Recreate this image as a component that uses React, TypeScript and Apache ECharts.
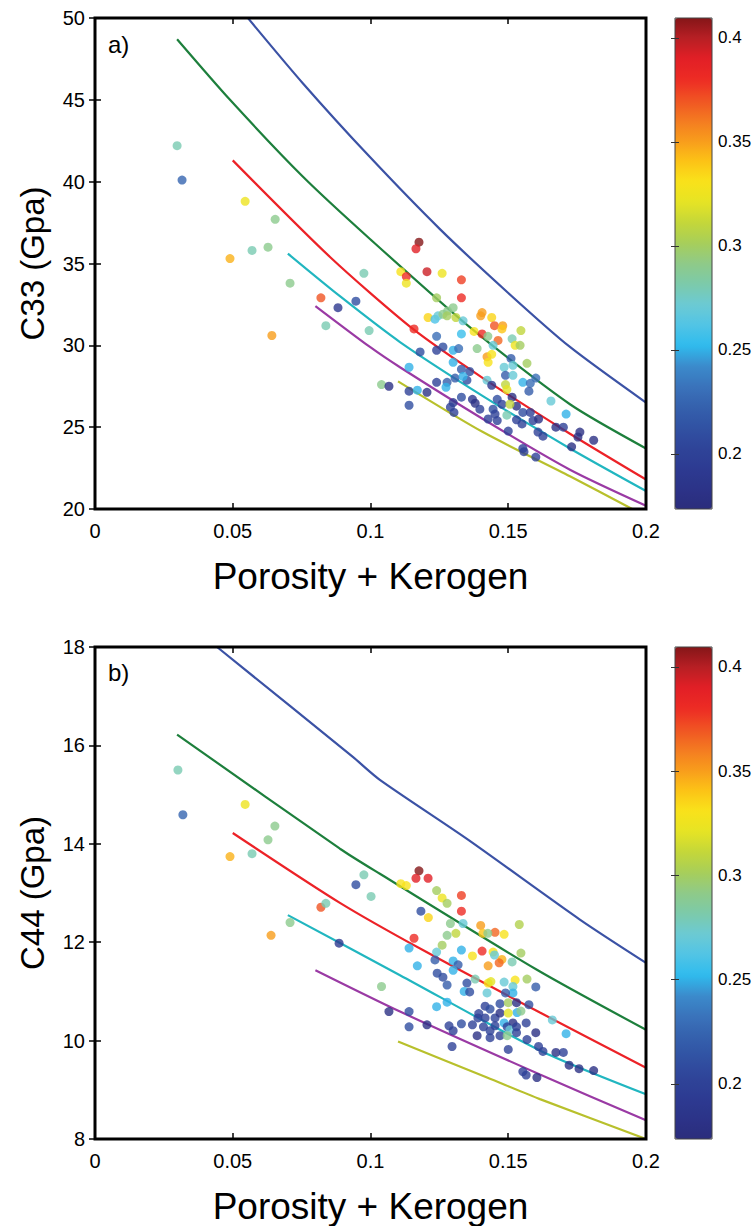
import React, { useEffect, useRef } from "react";
import * as echarts from "echarts";

// ---------- colour scale ----------
const CB_MIN = 0.1735;
const CB_MAX = 0.4095;
const CB_TICKS = [0.2, 0.25, 0.3, 0.35, 0.4];
const JET = [
  "#2b2d7c", "#2c3388", "#2d3b92", "#2f4499", "#3152a3", "#3561ad", "#3a73bb",
  "#3b8bcc", "#2fbcee", "#52c4e5", "#6ccad3", "#7ccaaa", "#8fca88", "#a7ce5a",
  "#c4d739", "#e6e424", "#f9e21a", "#fcc316", "#f89c1c", "#f47a21", "#f05323",
  "#ed2b24", "#e21f26", "#b81f24", "#851618",
];

// ---------- panel a) C33 ----------
const aX = [0.0298,0.0316,0.0545,0.0654,0.0628,0.057,0.049,0.0708,0.082,0.0882,0.0838,0.0947,0.0642,0.0976,0.0995,
  0.1176,0.1165,0.111,0.113,0.113,0.1205,0.126,0.133,0.124,0.133,0.1209,0.1234,0.1245,0.1263,0.128,0.13,0.1278,0.131,0.1336,
  0.1405,0.14,0.144,0.145,0.148,0.1477,0.1546,0.1158,0.1376,0.1405,0.1426,0.1463,0.1514,0.1525,0.1543,0.124,0.118,0.124,
  0.1263,0.13,0.132,0.1387,0.1445,0.1423,0.144,0.1427,0.151,0.1568,0.13,0.114,0.133,0.136,0.1485,0.1517,0.149,0.1517,0.16,
  0.1655,0.171,0.1307,0.135,0.1278,0.124,0.1423,0.144,0.149,0.1495,0.1553,0.158,0.104,0.1067,0.114,0.117,0.1205,0.1274,
  0.114,0.133,0.137,0.138,0.146,0.1514,0.153,0.13,0.129,0.1303,0.1397,0.1445,0.1452,0.1477,0.1495,0.1553,0.158,0.1427,0.146,
  0.153,0.159,0.161,0.15,0.155,0.1608,0.1626,0.1673,0.17,0.1553,0.1557,0.16,0.176,0.1753,0.173,0.181,0.133,0.1506,0.1575,0.1336];
const aC33 = [42.2,40.1,38.8,37.7,36.0,35.8,35.3,33.8,32.9,32.3,31.2,32.7,30.6,34.4,30.9,
  36.3,35.9,34.5,34.2,33.8,34.5,34.4,34.0,32.9,32.9,31.7,31.6,31.8,31.9,32.1,32.3,31.8,31.7,31.5,
  32.0,31.8,31.7,31.2,31.2,31.0,30.9,31.0,30.85,30.7,30.55,30.3,30.4,30.0,30.0,30.55,29.6,29.7,
  29.9,29.7,29.8,29.8,30.0,29.3,29.45,28.96,29.2,28.9,28.96,28.66,28.54,28.4,28.66,28.78,28.17,28.17,28.0,
  26.6,25.8,28.0,27.87,27.74,27.74,27.87,27.56,27.6,27.3,27.74,27.68,27.6,27.5,27.2,27.26,27.13,27.44,
  26.34,26.83,26.7,26.46,26.7,26.83,26.28,26.5,26.22,25.9,26.1,26.1,25.8,26.4,25.73,25.9,25.9,25.5,25.4,
  25.45,25.4,25.5,24.76,25.2,24.7,24.45,25.0,25.0,23.7,23.5,23.17,24.7,24.4,23.8,24.2,30.7,26.4,27.2,28.1];
const aColor = [0.28,0.225,0.325,0.29,0.29,0.28,0.345,0.29,0.37,0.19,0.28,0.21,0.35,0.28,0.28,
  0.41,0.39,0.33,0.38,0.325,0.395,0.325,0.375,0.3,0.38,0.335,0.26,0.27,0.29,0.29,0.29,0.3,0.31,0.27,
  0.35,0.35,0.335,0.37,0.35,0.34,0.31,0.38,0.33,0.38,0.29,0.365,0.28,0.325,0.3,0.23,0.21,0.2,
  0.21,0.25,0.23,0.29,0.27,0.35,0.33,0.33,0.22,0.3,0.25,0.25,0.22,0.21,0.27,0.27,0.22,0.27,0.23,
  0.27,0.25,0.22,0.21,0.22,0.2,0.27,0.19,0.31,0.32,0.25,0.23,0.29,0.18,0.2,0.25,0.18,0.25,
  0.21,0.21,0.19,0.18,0.21,0.18,0.18,0.19,0.2,0.2,0.2,0.21,0.2,0.2,0.28,0.21,0.2,0.2,0.2,
  0.2,0.2,0.18,0.2,0.2,0.2,0.2,0.18,0.2,0.2,0.2,0.2,0.18,0.18,0.18,0.18,0.255,0.31,0.22,0.25];

const blueA = [[0.055,50.1],[0.0755,46.0],[0.0998,41.5],[0.1252,37.1],[0.15,33.2],[0.1724,29.9],[0.2,26.5]];
const greenA = [[0.0298,48.7],[0.049,45.0],[0.0755,40.3],[0.0998,36.5],[0.1368,31.0],[0.1724,26.4],[0.2,23.7]];
const redA = [[0.05,41.3],[0.0853,35.4],[0.1154,31.0],[0.1408,28.0],[0.1724,24.6],[0.2,21.8]];
const cyanA = [[0.07,35.6],[0.0889,33.0],[0.1107,30.2],[0.1408,26.9],[0.1724,23.7],[0.2,21.1]];
const purpleA = [[0.08,32.4],[0.0998,29.9],[0.1107,28.66],[0.1408,25.5],[0.1724,22.4],[0.2,20.2]];
const yellowA = [[0.11,27.8],[0.1408,24.7],[0.1724,22.0],[0.195,20.0]];

// ---------- panel b) C44 ----------
const bX = [0.0301,0.0319,0.0545,0.0653,0.0628,0.057,0.049,0.0708,0.082,0.0886,0.0838,0.0947,0.0639,0.0976,0.1002,
  0.1176,0.1165,0.1209,0.111,0.113,0.124,0.126,0.1278,0.133,0.133,0.1183,0.121,0.129,0.1336,0.131,0.1278,0.126,0.1158,
  0.14,0.1408,0.1452,0.1485,0.154,0.1426,0.114,0.124,0.133,0.137,0.1405,0.1445,0.145,0.1477,0.1467,0.1427,0.1514,0.1546,
  0.117,0.1234,0.13,0.1318,0.1242,0.1263,0.1278,0.13,0.135,0.134,0.136,0.138,0.1427,0.1437,0.1423,0.1485,0.1525,0.1568,
  0.1517,0.1517,0.16,0.149,0.124,0.1278,0.114,0.114,0.1205,0.1285,0.13,0.133,0.137,0.1387,0.1416,0.1434,0.147,0.15,0.153,
  0.1532,0.1546,0.1575,0.1452,0.147,0.15,0.1517,0.1416,0.139,0.1452,0.1485,0.141,0.1434,0.1496,0.1506,0.153,0.1565,0.16,
  0.1434,0.147,0.1496,0.153,0.1568,0.161,0.1626,0.166,0.171,0.1673,0.17,0.1296,0.15,0.1553,0.1565,0.1604,0.1721,0.1757,
  0.181,0.1067,0.104,0.1393];
const bC44 = [15.5,14.59,14.8,14.36,14.08,13.8,13.74,12.4,12.71,11.98,12.79,13.17,12.14,13.37,12.93,
  13.45,13.3,13.3,13.19,13.15,13.05,12.9,12.79,12.95,12.63,12.63,12.5,12.38,12.38,12.18,12.14,11.94,12.08,
  12.34,12.18,12.2,12.16,12.36,12.18,11.88,11.8,11.84,11.72,11.82,11.8,11.74,11.65,11.58,11.52,11.6,11.78,
  11.52,11.64,11.62,11.54,11.37,11.29,11.13,11.43,11.17,11.0,10.99,11.25,11.17,11.2,10.97,11.19,11.23,11.25,
  11.1,10.97,11.09,10.97,10.69,10.78,10.59,10.28,10.32,10.3,10.2,10.34,10.32,10.1,10.7,10.64,10.75,10.77,10.77,
  10.57,10.6,10.73,10.46,10.56,10.56,10.36,10.46,10.46,10.3,10.36,10.28,10.2,10.28,10.22,10.28,10.36,10.16,
  10.06,10.1,10.1,10.16,10.02,9.88,9.78,10.42,10.14,9.76,9.76,9.88,9.82,9.37,9.3,9.25,9.5,9.43,
  9.39,10.59,11.1,10.55];
const bColor = [0.28,0.225,0.325,0.29,0.29,0.28,0.345,0.29,0.37,0.19,0.28,0.21,0.35,0.28,0.28,
  0.41,0.39,0.39,0.33,0.33,0.3,0.325,0.3,0.375,0.38,0.21,0.335,0.29,0.27,0.31,0.29,0.3,0.38,
  0.35,0.34,0.365,0.33,0.305,0.29,0.25,0.27,0.25,0.33,0.38,0.33,0.27,0.345,0.365,0.35,0.28,0.3,
  0.25,0.22,0.25,0.22,0.21,0.21,0.22,0.25,0.21,0.25,0.21,0.28,0.33,0.32,0.27,0.27,0.33,0.3,
  0.27,0.25,0.22,0.22,0.25,0.25,0.21,0.21,0.18,0.2,0.2,0.21,0.2,0.18,0.2,0.21,0.21,0.3,0.18,
  0.25,0.29,0.21,0.2,0.18,0.32,0.18,0.2,0.2,0.2,0.25,0.2,0.2,0.2,0.27,0.2,0.2,0.18,
  0.2,0.2,0.29,0.2,0.2,0.2,0.2,0.27,0.25,0.18,0.2,0.2,0.2,0.2,0.2,0.18,0.18,0.18,
  0.18,0.18,0.29,0.2];

const blueB = [[0.0443,18],[0.0937,15.76],[0.1034,15.3],[0.135,14.1],[0.176,12.46],[0.2,11.58]];
const greenB = [[0.0298,16.22],[0.0889,13.9],[0.1034,13.39],[0.1604,11.44],[0.2,10.22]];
const redB = [[0.05,14.22],[0.0889,12.8],[0.119,11.84],[0.1615,10.57],[0.2,9.45]];
const cyanB = [[0.07,12.55],[0.1107,11.33],[0.1615,9.8],[0.2,8.91]];
const purpleB = [[0.08,11.43],[0.1107,10.59],[0.1615,9.31],[0.2,8.38]];
const yellowB = [[0.11,9.98],[0.1423,9.25],[0.1615,8.81],[0.2,8.0]];

const X_TICKS_MAX = 0.2;
const LINE_COLORS = ["#3b52a5", "#1d7f3c", "#ec2227", "#21b6c0", "#9a3aa4", "#b8c02c"];

const FONT = "'Liberation Sans', Arial, Helvetica, sans-serif";

export default function App() {
  const ref = useRef<HTMLDivElement>(null);
  useEffect(() => {
    if (!ref.current) return;
    const chart = echarts.init(ref.current, undefined, { renderer: "svg" });

    const mainX = (grid: number, pos: "bottom" | "top") => ({
      type: "value",
      gridIndex: grid,
      position: pos,
      min: 0,
      max: X_TICKS_MAX,
      interval: 0.05,
      axisLine: { show: false },
      splitLine: { show: false },
      axisTick: { show: true, inside: true, length: 6, lineStyle: { color: "#000", width: 1.5 } },
      axisLabel: {
        show: pos === "bottom",
        fontSize: 20,
        color: "#000",
        fontFamily: FONT,
        margin: 12,
        formatter: (v: number) => String(+v.toFixed(2)),
      },
      name: pos === "bottom" ? "Porosity + Kerogen" : "",
      nameLocation: "middle",
      nameGap: 49,
      nameTextStyle: { fontSize: 37, color: "#000", fontFamily: FONT },
    });
    const mainY = (grid: number, pos: "left" | "right", min: number, max: number, interval: number, name: string) => ({
      type: "value",
      gridIndex: grid,
      position: pos,
      min,
      max,
      interval,
      axisLine: { show: false },
      splitLine: { show: false },
      axisTick: { show: true, inside: true, length: 6, lineStyle: { color: "#000", width: 1.5 } },
      axisLabel: { show: pos === "left", fontSize: 20, color: "#000", fontFamily: FONT, margin: 10 },
      name: pos === "left" ? name : "",
      nameLocation: "middle",
      nameGap: 46,
      nameRotate: 90,
      nameTextStyle: { fontSize: 33, color: "#000", fontFamily: FONT },
    });
    const cbX = (grid: number) => ({ type: "value", gridIndex: grid, min: 0, max: 1, show: false });
    const cbY = (grid: number, pos: "left" | "right") => ({
      type: "value",
      gridIndex: grid,
      position: pos,
      min: CB_MIN,
      max: CB_MAX,
      z: 10,
      axisLine: { show: false },
      splitLine: { show: false },
      axisTick: { show: true, inside: true, length: 4, customValues: CB_TICKS, lineStyle: { color: "#333", width: 1 } },
      axisLabel: {
        show: pos === "right",
        customValues: CB_TICKS,
        fontSize: 17,
        color: "#000",
        fontFamily: FONT,
        margin: 6,
        formatter: (v: number) => String(+v.toFixed(2)),
      },
    });

    const lineSeries = (data: number[][], color: string, xi: number, yi: number) => ({
      type: "line",
      data,
      xAxisIndex: xi,
      yAxisIndex: yi,
      showSymbol: false,
      smooth: 0.25,
      clip: true,
      lineStyle: { color, width: 2.2 },
      z: 2,
      silent: true,
    });

    const ptsA = aX.map((x, i) => [x, aC33[i], aColor[i]]);
    const ptsB = bX.map((x, i) => [x, bC44[i], bColor[i]]);
    const linesA = [blueA, greenA, redA, cyanA, purpleA, yellowA];
    const linesB = [blueB, greenB, redB, cyanB, purpleB, yellowB];

    const series: any[] = [];
    linesA.forEach((d, i) => series.push(lineSeries(d, LINE_COLORS[i], 0, 0)));
    const scatterAIndex = series.length;
    series.push({ type: "scatter", data: ptsA, xAxisIndex: 0, yAxisIndex: 0, symbolSize: 9, z: 3 });
    linesB.forEach((d, i) => series.push(lineSeries(d, LINE_COLORS[i], 2, 2)));
    const scatterBIndex = series.length;
    series.push({ type: "scatter", data: ptsB, xAxisIndex: 2, yAxisIndex: 2, symbolSize: 9, z: 3 });

    const vm = (seriesIndex: number, top: number, height: number) => ({
      type: "continuous",
      seriesIndex,
      dimension: 2,
      min: CB_MIN,
      max: CB_MAX,
      inRange: { color: JET },
      orient: "vertical",
      left: 675,
      top,
      itemWidth: 37,
      itemHeight: height,
      padding: 0,
      calculable: false,
      hoverLink: false,
      text: null,
    });

    chart.setOption({
      animation: false,
      backgroundColor: "#fff",
      grid: [
        { left: 95, top: 18, width: 551, height: 491, show: true, borderColor: "#000", borderWidth: 3, z: 5 },
        { left: 95, top: 647, width: 551, height: 492, show: true, borderColor: "#000", borderWidth: 3, z: 5 },
        { left: 675, top: 18, width: 37, height: 491, show: true, borderColor: "#444", borderWidth: 1, z: 10 },
        { left: 675, top: 647, width: 37, height: 492, show: true, borderColor: "#444", borderWidth: 1, z: 10 },
      ],
      xAxis: [mainX(0, "bottom"), mainX(0, "top"), mainX(1, "bottom"), mainX(1, "top"), cbX(2), cbX(3)],
      yAxis: [
        mainY(0, "left", 20, 50, 5, "C33 (Gpa)"),
        mainY(0, "right", 20, 50, 5, ""),
        mainY(1, "left", 8, 18, 2, "C44 (Gpa)"),
        mainY(1, "right", 8, 18, 2, ""),
        cbY(2, "right"),
        cbY(2, "left"),
        cbY(3, "right"),
        cbY(3, "left"),
      ],
      visualMap: [vm(scatterAIndex, 18, 491), vm(scatterBIndex, 647, 492)],
      graphic: [
        { type: "text", left: 108, top: 32, style: { text: "a)", fontSize: 24, fontFamily: FONT, fill: "#000" } },
        { type: "text", left: 108, top: 660, style: { text: "b)", fontSize: 24, fontFamily: FONT, fill: "#000" } },
      ],
      series,
    });
    return () => chart.dispose();
  }, []);
  return <div ref={ref} style={{ position: "absolute", left: 0, top: 0, width: 755, height: 1226 }} />;
}
